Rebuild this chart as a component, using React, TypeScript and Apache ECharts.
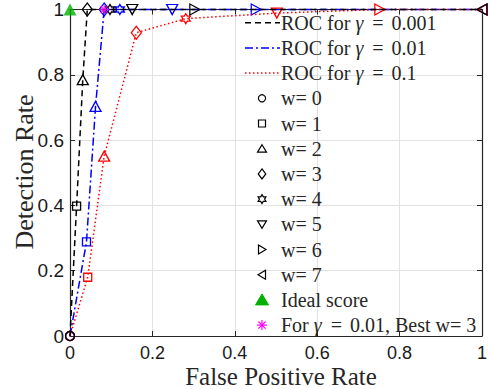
import React, { useEffect, useRef } from "react";
import * as echarts from "echarts";

// ---- data ----
const GAMMA_LABELS = ["0.001", "0.01", "0.1"];
const W_LABELS = ["w= 0", "w= 1", "w= 2", "w= 3", "w= 4", "w= 5", "w= 6", "w= 7"];
const FPR_G0001 = [0, 0.016, 0.031, 0.042, 0.097, 0.151, 0.303, 1.0];
const TPR_G0001 = [0, 0.398, 0.785, 1, 1, 1, 1, 1];
const FPR_G001 = [0, 0.04, 0.062, 0.083, 0.121, 0.248, 0.452, 1.0];
const TPR_G001 = [0, 0.288, 0.703, 1, 1, 1, 1, 1];
const FPR_G01 = [0, 0.043, 0.083, 0.161, 0.281, 0.502, 0.752, 1.0];
const TPR_G01 = [0, 0.18, 0.551, 0.929, 0.972, 0.989, 1, 1];
const IDEAL = [0, 1];
const BEST_W = 3;
const X_TICKS = [0, 0.2, 0.4, 0.6, 0.8, 1];
const Y_TICKS = [0, 0.2, 0.4, 0.6, 0.8, 1];

const SERIF = '"Liberation Serif", "Times New Roman", serif';
const SANS = '"Liberation Sans", Arial, sans-serif';
const AX = "#262626";

const HEX_PATH =
  "path://M10,0 L12.89,5 L18.66,5 L15.77,10 L18.66,15 L12.89,15 L10,20 L7.11,15 L1.34,15 L4.23,10 L1.34,5 L7.11,5 Z";
const AST_PATH = "path://M5,0 L5,10 M0,5 L10,5 M1.5,1.5 L8.5,8.5 M8.5,1.5 L1.5,8.5";
const MARKERS: { symbol: string; size: number | number[] }[] = [
  { symbol: "circle", size: 9 },
  { symbol: "rect", size: 8 },
  { symbol: "path://M5,0 L10,9 L0,9 Z", size: [11, 10] },
  { symbol: "diamond", size: [10, 13] },
  { symbol: HEX_PATH, size: [9, 10] },
  { symbol: "path://M0,0 L10,0 L5,9 Z", size: [11, 10] },
  { symbol: "path://M0,0 L9,5 L0,10 Z", size: [10, 11] },
  { symbol: "path://M9,0 L0,5 L9,10 Z", size: [10, 11] },
];

function rocSeries(name: string, fpr: number[], tpr: number[], color: string, dash: any, z: number) {
  return {
    type: "line",
    name,
    z,
    clip: false,
    silent: true,
    data: fpr.map((x, i) => ({
      value: [x, tpr[i]],
      symbol: MARKERS[i].symbol,
      symbolSize: MARKERS[i].size,
    })),
    lineStyle: { color, width: 1.5, type: dash },
    itemStyle: { color: "rgba(0,0,0,0)", borderColor: color, borderWidth: 1.3 },
    emphasis: { disabled: true },
  };
}

// legend marker graphics (pixel layout)
function legendMarker(kind: number, cx: number, cy: number): any {
  const st = { fill: "none", stroke: "#000", lineWidth: 1.2 };
  switch (kind) {
    case 0:
      return { type: "circle", shape: { cx, cy, r: 3.6 }, style: st };
    case 1:
      return { type: "rect", shape: { x: cx - 3.5, y: cy - 3.5, width: 7, height: 7 }, style: st };
    case 2:
      return { type: "polygon", shape: { points: [[cx, cy - 4], [cx + 4.5, cy + 3.5], [cx - 4.5, cy + 3.5]] }, style: st };
    case 3:
      return { type: "polygon", shape: { points: [[cx, cy - 5], [cx + 3.8, cy], [cx, cy + 5], [cx - 3.8, cy]] }, style: st };
    case 4: {
      const pts: number[][] = [];
      for (let k = 0; k < 12; k++) {
        const a = -Math.PI / 2 + (k * Math.PI) / 6;
        const r = k % 2 === 0 ? 4.5 : 2.6;
        pts.push([cx + r * Math.cos(a), cy + r * Math.sin(a)]);
      }
      return { type: "polygon", shape: { points: pts }, style: st };
    }
    case 5:
      return { type: "polygon", shape: { points: [[cx - 4.5, cy - 3.5], [cx + 4.5, cy - 3.5], [cx, cy + 4]] }, style: st };
    case 6:
      return { type: "polygon", shape: { points: [[cx - 3.5, cy - 4.5], [cx + 4, cy], [cx - 3.5, cy + 4.5]] }, style: st };
    case 7:
      return { type: "polygon", shape: { points: [[cx + 3.5, cy - 4.5], [cx - 4, cy], [cx + 3.5, cy + 4.5]] }, style: st };
  }
  return null;
}

export default function App() {
  const ref = useRef<HTMLDivElement>(null);
  useEffect(() => {
    if (!ref.current) return;
    const chart = echarts.init(ref.current, null, { renderer: "svg" });

    const LX0 = 245, LX1 = 280, TX = 281, LY0 = 22.7, DY = 25.2;
    const rich = {
      n: { fontFamily: SERIF, fontSize: 20, fill: AX, color: AX },
      g: { fontFamily: SERIF, fontSize: 20, fontStyle: "italic", fill: AX, color: AX, padding: [0, 1, 0, 0] },
      e: { fontFamily: SERIF, fontSize: 20, fill: AX, color: AX, padding: [0, 3, 0, 3] },
    };
    const textEl = (y: number, text: string) => ({
      type: "text",
      x: TX,
      y,
      z: 100,
      style: { text, rich, fontFamily: SERIF, fontSize: 20, fill: AX, align: "left", verticalAlign: "middle" },
    });
    const graphics: any[] = [];
    const lineDefs = [
      { color: "#000000", dash: [6, 4] },
      { color: "#0000ff", dash: [8, 3, 2, 3] },
      { color: "#ff0000", dash: [1.5, 2.5] },
    ];
    lineDefs.forEach((d, i) => {
      const y = LY0 + i * DY;
      graphics.push({
        type: "line",
        z: 100,
        shape: { x1: LX0, y1: y, x2: LX1, y2: y },
        style: { stroke: d.color, lineWidth: 1.5, lineDash: d.dash },
      });
      graphics.push(textEl(y, `{n|ROC for }{g|γ}{e| = }{n|${GAMMA_LABELS[i]}}`));
    });
    W_LABELS.forEach((lab, i) => {
      const y = LY0 + (3 + i) * DY;
      const m = legendMarker(i, 262, y);
      m.z = 100;
      graphics.push(m);
      graphics.push(textEl(y, `{n|${lab}}`));
    });
    {
      const y = LY0 + 11 * DY;
      graphics.push({
        type: "polygon",
        z: 100,
        shape: { points: [[262, y - 6], [268.5, y + 5], [255.5, y + 5]] },
        style: { fill: "#00b000", stroke: "#00b000", lineWidth: 1 },
      });
      graphics.push(textEl(y, "{n|Ideal score}"));
    }
    {
      const y = LY0 + 12 * DY;
      const s = 5, d = 3.6;
      [[0, -s, 0, s], [-s, 0, s, 0], [-d, -d, d, d], [d, -d, -d, d]].forEach((p) =>
        graphics.push({
          type: "line",
          z: 100,
          shape: { x1: 262 + p[0], y1: y + p[1], x2: 262 + p[2], y2: y + p[3] },
          style: { stroke: "#ff00ff", lineWidth: 1.2 },
        })
      );
      graphics.push(textEl(y, `{n|For }{g|γ}{e| = }{n|${GAMMA_LABELS[1]}, Best ${W_LABELS[BEST_W]}}`));
    }
    graphics.push({
      type: "text",
      x: 281,
      y: 376,
      style: { text: "False Positive Rate", fontFamily: SERIF, fontSize: 25, fill: AX, align: "center", verticalAlign: "middle" },
    });
    graphics.push({
      type: "text",
      x: 24,
      y: 172,
      rotation: Math.PI / 2,
      style: { text: "Detection Rate", fontFamily: SERIF, fontSize: 26, fill: AX, align: "center", verticalAlign: "middle" },
    });

    const axisBase = {
      type: "value",
      min: X_TICKS[0],
      max: X_TICKS[X_TICKS.length - 1],
      interval: X_TICKS[1] - X_TICKS[0],
      axisLine: { show: true, onZero: false, lineStyle: { color: AX, width: 1.2 } },
      axisTick: { show: true, inside: true, length: 5, lineStyle: { color: AX, width: 1 } },
    };
    const yBase = {
      ...axisBase,
      min: Y_TICKS[0],
      max: Y_TICKS[Y_TICKS.length - 1],
      interval: Y_TICKS[1] - Y_TICKS[0],
    };

    chart.setOption({
      animation: false,
      grid: { left: 70, right: 7, top: 9, bottom: 53, containLabel: false },
      xAxis: [
        {
          ...axisBase,
          position: "bottom",
          axisLabel: { fontFamily: SANS, fontSize: 18, color: "#1a1a1a", margin: 8 },
          splitLine: { show: true, lineStyle: { color: "#e2e2e2", width: 1 } },
        },
        { ...axisBase, position: "top", axisLabel: { show: false }, splitLine: { show: false } },
      ],
      yAxis: [
        {
          ...yBase,
          position: "left",
          axisLabel: { fontFamily: SANS, fontSize: 19, color: "#1a1a1a", margin: 6 },
          splitLine: { show: true, lineStyle: { color: "#e2e2e2", width: 1 } },
        },
        { ...yBase, position: "right", axisLabel: { show: false }, splitLine: { show: false } },
      ],
      series: [
        rocSeries("ROC γ=0.01", FPR_G001, TPR_G001, "#0000ff", [8, 3, 2, 3], 2),
        rocSeries("ROC γ=0.1", FPR_G01, TPR_G01, "#ff0000", [1.5, 2.5], 3),
        rocSeries("ROC γ=0.001", FPR_G0001, TPR_G0001, "#000000", [6, 4], 4),
        {
          type: "scatter",
          name: "Ideal score",
          z: 6,
          clip: false,
          silent: true,
          data: [IDEAL],
          symbol: "triangle",
          symbolSize: [13, 12],
          itemStyle: { color: "#00b000" },
        },
        {
          type: "scatter",
          name: "Best",
          z: 7,
          clip: false,
          silent: true,
          data: [[FPR_G001[BEST_W], TPR_G001[BEST_W]]],
          symbol: AST_PATH,
          symbolSize: 10,
          itemStyle: { color: "none", borderColor: "#ff00ff", borderWidth: 1.3 },
        },
      ],
      graphic: graphics,
    });
    return () => chart.dispose();
  }, []);
  return <div ref={ref} style={{ position: "fixed", left: 0, top: 0, width: 490, height: 389, background: "#fff" }} />;
}
